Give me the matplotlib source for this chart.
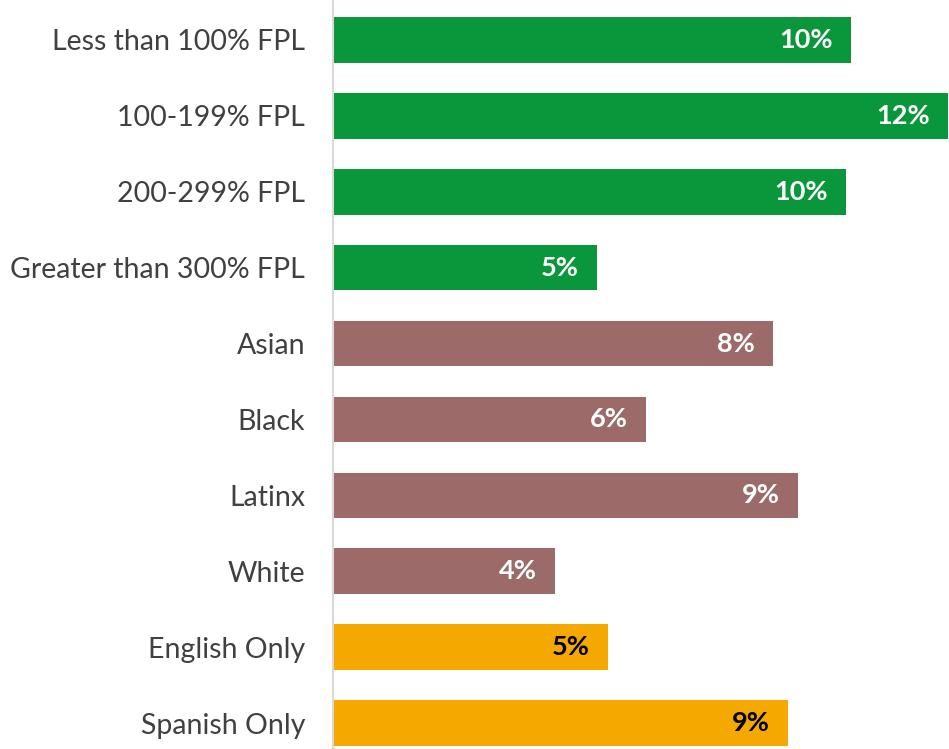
import matplotlib.pyplot as plt

# ----- DATA -----
categories = ["Less than 100% FPL", "100-199% FPL", "200-299% FPL",
              "Greater than 300% FPL", "Asian", "Black", "Latinx", "White",
              "English Only", "Spanish Only"]
values = [9.87, 11.71, 9.77, 5.03, 8.38, 5.96, 8.86, 4.23, 5.24, 8.67]
groups = ["fpl", "fpl", "fpl", "fpl", "race", "race", "race", "race",
          "lang", "lang"]

# ----- STYLE -----
bar_colors = {"fpl": "#0A963A", "race": "#9C6B69", "lang": "#F5A800"}
label_colors = {"fpl": "white", "race": "white", "lang": "black"}
plt.rcParams['font.family'] = ['Lato', 'DejaVu Sans']

fig = plt.figure(figsize=(9.49, 7.49), dpi=100)
ax = fig.add_axes([333 / 949, 0, 616 / 949, 1])

ypos = list(range(len(categories)))
ax.barh(ypos, values, height=0.6,
        color=[bar_colors[g] for g in groups])

for y, v, g in zip(ypos, values, groups):
    ax.annotate(f"{v:.0f}%", xy=(v, y), xytext=(-13, 0),
                textcoords="offset points", ha="right", va="center",
                fontsize=19.5, fontweight="bold", color=label_colors[g])

ax.set_xlim(0, 616 / 52.5)
ax.set_ylim(9 + 26 / 75.9, -40 / 75.9)
ax.set_yticks(ypos)
ax.set_yticklabels(categories, fontsize=20.5, color="#404040")
ax.tick_params(axis="y", length=0, pad=20)
ax.set_xticks([])

for s in ["top", "right", "bottom"]:
    ax.spines[s].set_visible(False)
ax.spines["left"].set_color("#D9D9D9")
ax.spines["left"].set_linewidth(1.5)

fig.savefig("out.png", dpi=100)
